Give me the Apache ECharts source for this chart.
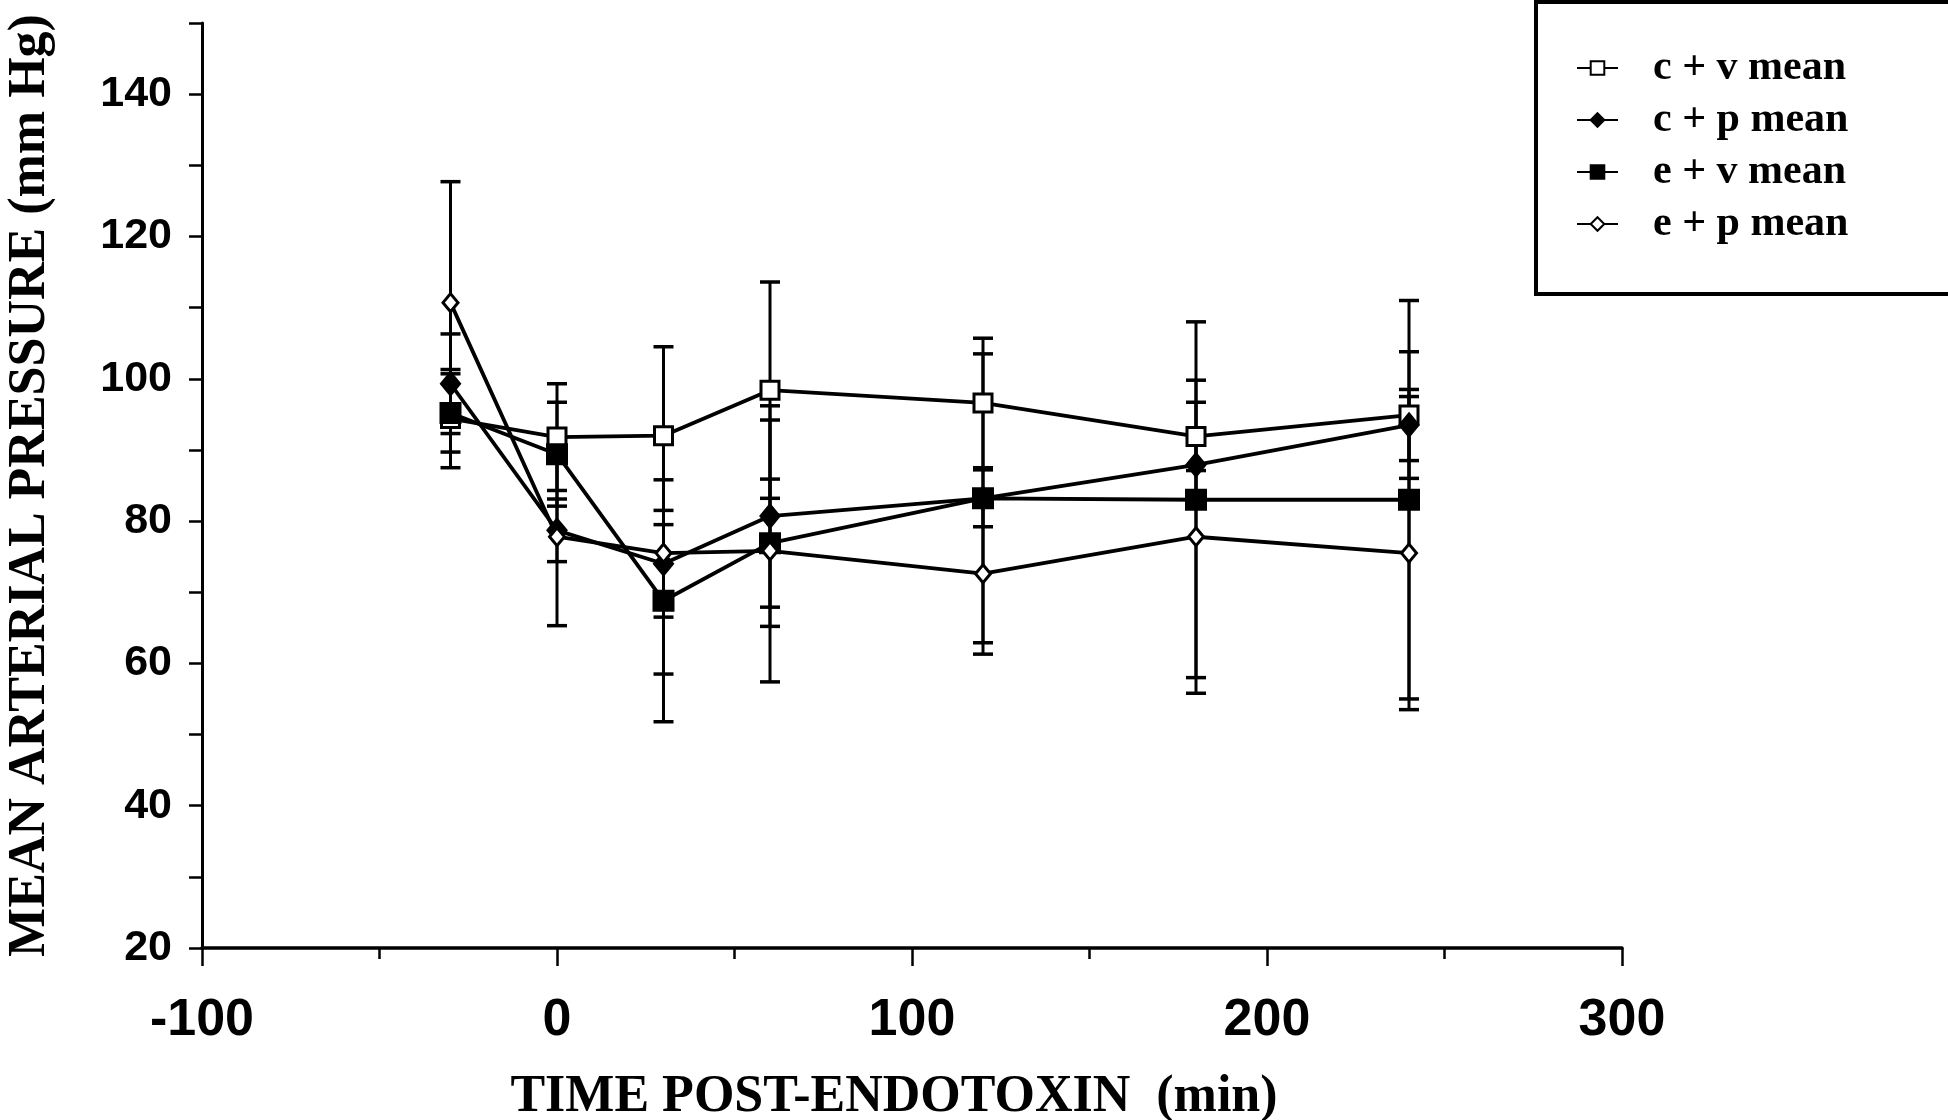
<!DOCTYPE html>
<html><head><meta charset="utf-8">
<script src="https://cdn.jsdelivr.net/npm/echarts@6/dist/echarts.min.js"></script>
<style>html,body{margin:0;padding:0;background:#fff}#chart{width:1948px;height:1120px}</style>
</head><body><div id="chart"></div>
<script>
// Time points (min post-endotoxin)
const times = [-30, 0, 30, 60, 120, 180, 240];
// Series names
const seriesNames = ['c + v mean', 'c + p mean', 'e + v mean', 'e + p mean'];
// Means (mm Hg)
const cvMean = [94.4, 91.8, 92.0, 98.4, 96.6, 91.9, 94.9];
const cpMean = [99.3, 78.7, 74.0, 80.7, 83.2, 87.9, 93.5];
const evMean = [95.2, 89.4, 68.8, 76.9, 83.2, 83.0, 83.0];
const epMean = [110.7, 77.8, 75.5, 75.8, 72.6, 77.8, 75.5];
// Error bar half-widths (mm Hg)
const cvErr = [6.9, 7.5, 12.5, 15.2, 9.1, 4.8, 8.9];
const cpErr = [7.0, 4.4, 7.5, 15.5, 20.3, 4.0, 5.0];
const evErr = [5.5, 7.3, 17.0, 9.0, 4.0, 25.0, 28.0];
const epErr = [17.0, 12.5, 17.0, 18.4, 11.3, 22.0, 22.0];
// Axis ticks
const xTickLabels = [-100, 0, 100, 200, 300];
const yTickLabels = [20, 40, 60, 80, 100, 120, 140];

const chart = echarts.init(document.getElementById('chart'), null, {renderer: 'canvas'});

function errSeries(name, mean, err) {
  return {
    type: 'custom', name: name + ' err', silent: true, z: 1,
    data: times.map((t, i) => [t, mean[i] - err[i], mean[i] + err[i]]),
    encode: {x: 0, y: [1, 2]},
    renderItem(params, api) {
      const x = api.value(0), lo = api.value(1), hi = api.value(2);
      const p1 = api.coord([x, hi]), p2 = api.coord([x, lo]);
      const hw = 10;
      return {type: 'group', children: [
        {type: 'line', shape: {x1: p1[0], y1: p1[1], x2: p2[0], y2: p2[1]}, style: {stroke: '#000', lineWidth: 3}},
        {type: 'line', shape: {x1: p1[0] - hw, y1: p1[1], x2: p1[0] + hw, y2: p1[1]}, style: {stroke: '#000', lineWidth: 3.5}},
        {type: 'line', shape: {x1: p2[0] - hw, y1: p2[1], x2: p2[0] + hw, y2: p2[1]}, style: {stroke: '#000', lineWidth: 3.5}}
      ]};
    }
  };
}
function lineSeries(name, mean, symbol, size, fill, z) {
  return {
    type: 'line', name: name, z: z,
    data: times.map((t, i) => [t, mean[i]]),
    symbol: symbol, symbolSize: size, showAllSymbol: true,
    lineStyle: {color: '#000', width: 3.8},
    itemStyle: {color: fill, borderColor: '#000', borderWidth: 3}
  };
}

const tickFont = {fontFamily: 'Liberation Sans', fontWeight: 'bold', color: '#000'};
const titleFont = {fontFamily: 'Liberation Serif', fontWeight: 'bold', color: '#000'};

chart.setOption({
  animation: false,
  backgroundColor: '#fff',
  grid: {left: 202, right: 326, top: 23, bottom: 172, containLabel: false, outerBoundsMode: 'none'},
  legend: {
    data: seriesNames, orient: 'vertical', left: 1571, top: 42,
    itemWidth: 41, itemHeight: 17, itemGap: 10,
    textStyle: Object.assign({fontSize: 42, padding: [0, 0, 0, 30]}, titleFont)
  },
  graphic: [{type: 'rect', shape: {x: 1536, y: 2, width: 440, height: 292},
             style: {fill: 'none', stroke: '#000', lineWidth: 4}, z: 100}],
  xAxis: {
    type: 'value', min: -100, max: 300, interval: 100,
    axisLine: {onZero: false, lineStyle: {color: '#000', width: 3.5}},
    axisTick: {show: true, length: 18, lineStyle: {color: '#000', width: 2.5}},
    minorTick: {show: true, splitNumber: 2, length: 11, lineStyle: {color: '#000', width: 2.5}},
    splitLine: {show: false}, minorSplitLine: {show: false},
    axisLabel: Object.assign({fontSize: 52, margin: 47,
      formatter: v => xTickLabels.includes(v) ? String(v) : ''}, tickFont),
    name: 'TIME POST-ENDOTOXIN  (min)', nameLocation: 'middle', nameGap: 124,
    nameTextStyle: Object.assign({fontSize: 52, padding: [0, 36, 0, 0]}, titleFont)
  },
  yAxis: {
    type: 'value', min: 20, max: 150, interval: 10,
    axisLine: {show: true, onZero: false, lineStyle: {color: '#000', width: 3}},
    axisTick: {show: true, length: 13, lineStyle: {color: '#000', width: 2.5}},
    splitLine: {show: false},
    axisLabel: Object.assign({fontSize: 43, margin: 30,
      formatter: v => yTickLabels.includes(v) ? String(v) : ''}, tickFont),
    name: 'MEAN ARTERIAL PRESSURE (mm Hg)', nameLocation: 'middle', nameGap: 145, nameRotate: 90,
    nameTextStyle: Object.assign({fontSize: 52}, titleFont)
  },
  series: [
    errSeries('c + v mean', cvMean, cvErr),
    errSeries('c + p mean', cpMean, cpErr),
    errSeries('e + v mean', evMean, evErr),
    errSeries('e + p mean', epMean, epErr),
    lineSeries('c + v mean', cvMean, 'rect', 18, '#fff', 3),
    lineSeries('c + p mean', cpMean, 'diamond', [18, 22], '#000', 4),
    lineSeries('e + v mean', evMean, 'rect', 19, '#000', 5),
    lineSeries('e + p mean', epMean, 'diamond', [15, 18], '#fff', 6)
  ]
});
</script></body></html>
